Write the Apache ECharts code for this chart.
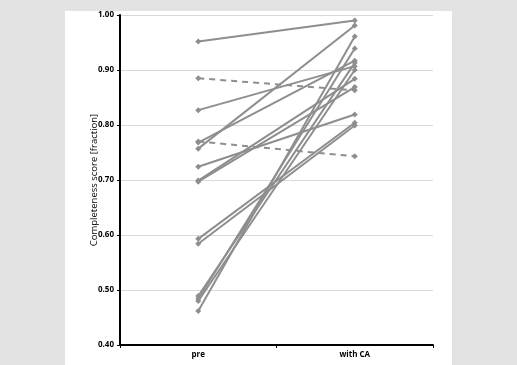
<!DOCTYPE html>
<html>
<head>
<meta charset="utf-8">
<script src="https://cdn.jsdelivr.net/npm/echarts@6/dist/echarts.min.js"></script>
<style>
  html, body { margin: 0; padding: 0; background: #e3e3e3; }
  #panel { position: absolute; left: 65px; top: 11px; width: 387px; height: 354px; background: #fff; }
  #chart { position: absolute; left: 0; top: 0; width: 517px; height: 365px; }
</style>
</head>
<body>
<div id="panel"></div>
<div id="chart"></div>
<script>
const categories = ['pre', 'with CA']
// one entry per subject
const preScores  = [0.952, 0.885, 0.827, 0.770, 0.768, 0.757, 0.724, 0.699, 0.697, 0.593, 0.584, 0.489, 0.484, 0.480, 0.462]
const postScores = [0.990, 0.863, 0.907, 0.743, 0.917, 0.981, 0.819, 0.884, 0.869, 0.804, 0.799, 0.913, 0.939, 0.900, 0.961]
const dashed     = [false, true, false, true, false, false, false, false, false, false, false, false, false, false, false]
const yTicks = [0.4, 0.5, 0.6, 0.7, 0.8, 0.9, 1.0]

const chart = echarts.init(document.getElementById('chart'))

const series = preScores.map((v, i) => ({
  type: 'line',
  data: [v, postScores[i]],
  symbol: 'diamond',
  symbolSize: 6,
  itemStyle: { color: '#8e8e8e' },
  lineStyle: { color: '#8e8e8e', width: 2, type: dashed[i] ? [6, 5] : 'solid' },
  z: dashed[i] ? 1 : 2
}))

chart.setOption({
  animation: false,
  grid: { left: 120, right: 84, top: 15, bottom: 20 },
  xAxis: {
    type: 'category',
    data: categories,
    boundaryGap: true,
    axisLine: { lineStyle: { color: '#000', width: 2 } },
    axisTick: { show: true, length: 3, lineStyle: { color: '#000' } },
    axisLabel: { color: '#000', fontSize: 8, fontWeight: 'bold', fontFamily: 'Open Sans', margin: 6 },
    splitLine: { show: false }
  },
  yAxis: {
    type: 'value',
    min: yTicks[0],
    max: yTicks[yTicks.length - 1],
    interval: 0.1,
    name: 'Completeness score [fraction]',
    nameLocation: 'middle',
    nameGap: 21,
    nameMoveOverlap: false,
    nameTextStyle: { color: '#000', fontSize: 9.5, fontFamily: 'Open Sans' },
    axisLine: { show: true, lineStyle: { color: '#000', width: 2 } },
    axisTick: { show: true, length: 3, lineStyle: { color: '#000' } },
    axisLabel: {
      color: '#000', fontSize: 8, fontWeight: 'bold', fontFamily: 'Open Sans', margin: 6,
      formatter: v => v.toFixed(2)
    },
    splitLine: { lineStyle: { color: '#d9d9d9', width: 1 } }
  },
  series
})
</script>
</body>
</html>
